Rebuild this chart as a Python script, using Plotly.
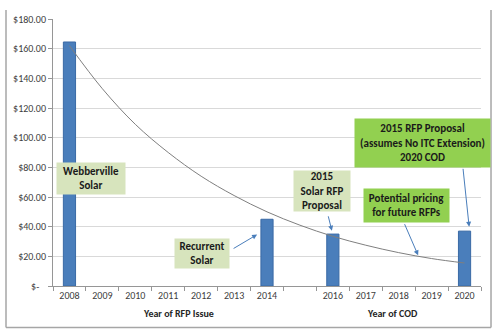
import plotly.graph_objects as go

# ---- data ----
years = [2008, 2009, 2010, 2011, 2012, 2013, 2014, 2015, 2016, 2017, 2018, 2019, 2020]
year_labels = ["2008", "2009", "2010", "2011", "2012", "2013", "2014", "", "2016", "2017", "2018", "2019", "2020"]
bar_years = [2008, 2014, 2016, 2020]
bar_prices = [164.5, 45, 35, 37]
trend_prices = [162, 133, 109, 90, 74, 61, 50, 41, 33.5, 27.5, 22.5, 18.5, 15.5]
y_ticks = [0, 20, 40, 60, 80, 100, 120, 140, 160, 180]
y_tick_labels = ["$-\u00a0\u00a0\u00a0", "$20.00", "$40.00", "$60.00", "$80.00", "$100.00",
                 "$120.00", "$140.00", "$160.00", "$180.00"]

FONT = "Carlito, 'Liberation Sans Narrow', 'Liberation Sans', Arial, sans-serif"
BAR = "#4A7EBB"
LIGHT_GREEN = "#D7E4BD"
BRIGHT_GREEN = "#92D050"

fig = go.Figure()
fig.add_trace(go.Bar(x=bar_years, y=bar_prices, width=0.37,
                     marker=dict(color=BAR, line=dict(color="#3A6AA5", width=1))))
fig.add_trace(go.Scatter(x=years, y=trend_prices, mode="lines",
                         line=dict(color="#7F7F7F", width=1, shape="spline")))

def box(text, x, y, w, h, color):
    return dict(text=text, x=x, y=y, xref="x", yref="y", showarrow=False,
                width=w, height=h, bgcolor=color, borderpad=0, align="center",
                valign="middle", font=dict(family=FONT, size=11, color="#1A1A1A"))

def arrow(x, y, ax, ay):
    return dict(text="", x=x, y=y, ax=ax, ay=ay, xref="x", yref="y", axref="x", ayref="y",
                showarrow=True, arrowhead=2, arrowsize=1, arrowwidth=1, arrowcolor=BAR)

annotations = [
    box("<b>Webberville<br>Solar</b>", 2008.65, 72.3, 68, 31, LIGHT_GREEN),
    box("<b>Recurrent<br>Solar</b>", 2012.03, 21.7, 54, 29, LIGHT_GREEN),
    box("<b>2015<br>Solar RFP<br>Proposal</b>", 2015.67, 64, 56, 40, LIGHT_GREEN),
    box("<b>Potential pricing<br>for future RFPs</b>", 2018.24, 54.3, 85, 33, BRIGHT_GREEN),
    box("<b>2015 RFP Proposal<br>(assumes No ITC Extension)<br>2020 COD</b>", 2018.72, 96.7, 135, 48, BRIGHT_GREEN),
    arrow(2013.70, 34.7, 2012.94, 24.7),
    arrow(2015.97, 37.3, 2015.85, 48),
    arrow(2018.59, 20.7, 2018.16, 42.7),
    arrow(2020.14, 40, 2019.95, 80),
    dict(text="<b>Year of RFP Issue</b>", x=0.294, y=-0.104, xref="paper", yref="paper",
         xanchor="center", yanchor="middle",
         showarrow=False, font=dict(family=FONT, size=10, color="#262626")),
    dict(text="<b>Year of COD</b>", x=0.794, y=-0.104, xref="paper", yref="paper",
         xanchor="center", yanchor="middle",
         showarrow=False, font=dict(family=FONT, size=10, color="#262626")),
]

frame = dict(color="#A6A6A6", width=1.5)
shapes = [
    dict(type="line", xref="paper", yref="paper", x0=-0.1098, x1=-0.1098, y0=-0.1556, y1=1.0333, line=frame),
    dict(type="line", xref="paper", yref="paper", x0=1.0234, x1=1.0234, y0=-0.1556, y1=1.0333, line=frame),
    dict(type="line", xref="paper", yref="paper", x0=-0.1098, x1=1.0234, y0=-0.1556, y1=-0.1556, line=frame),
]

fig.update_layout(
    width=501, height=331,
    margin=dict(l=53, r=20, t=16, b=45),
    paper_bgcolor="white", plot_bgcolor="white",
    showlegend=False,
    annotations=annotations, shapes=shapes,
    font=dict(family=FONT, size=10, color="#404040"),
)
fig.update_xaxes(range=[2007.5, 2020.5], tickvals=years, ticktext=year_labels,
                 ticks="", showgrid=False, showline=True, linecolor="#969696", linewidth=1,
                 tickfont=dict(family=FONT, size=10, color="#404040"),
                 minor=dict(tick0=2007.5, dtick=1, ticks="outside", ticklen=4, tickcolor="#969696",
                            showgrid=False),
                 zeroline=False)
fig.update_yaxes(range=[0, 180], tickvals=y_ticks, ticktext=y_tick_labels,
                 ticks="outside", ticklen=4, tickcolor="#969696",
                 showgrid=True, gridcolor="#D9D9D9", gridwidth=1,
                 showline=True, linecolor="#969696", linewidth=1, zeroline=False,
                 tickfont=dict(family=FONT, size=10, color="#404040"))

fig.write_html("out.html")
